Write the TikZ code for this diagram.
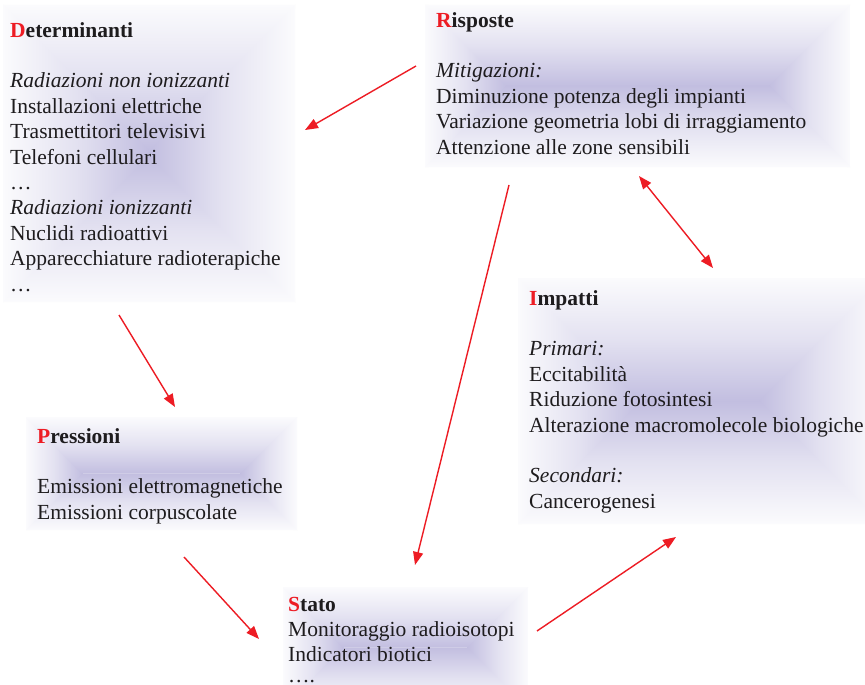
\documentclass[tikz,border=0pt]{standalone}
\usepackage{fontspec}
\setmainfont{Liberation Serif}
\usetikzlibrary{arrows.meta}

\definecolor{dpsirred}{RGB}{237,28,36}
\definecolor{panelcore}{RGB}{194,190,224}
\definecolor{paneledge}{RGB}{251,251,253}
\definecolor{inkblack}{RGB}{30,28,30}

\tikzset{
  panel text/.style={anchor=north west, inner sep=0pt, align=left, text=inkblack,
    font=\fontsize{21.5}{25.4}\selectfont},
  fade in/.style={middle color=panelcore!42!paneledge},
  flow/.style={draw=dpsirred, line width=1.4pt, -{Triangle[length=13pt,width=10pt]}},
  flow both/.style={draw=dpsirred, line width=1.4pt,
    {Triangle[length=13pt,width=10pt]}-{Triangle[length=13pt,width=10pt]}},
}

\newcommand\initial[1]{\textcolor{dpsirred}{#1}}

% Rectangular "from centre" gradient panel. The short-side pieces are laid
% down first, widened a little past the diagonals, so the long-side pieces
% drawn on top of them meet without visible seams.
\newcommand\gradpanel[4]{%
  \pgfmathsetmacro\gxa{#1}\pgfmathsetmacro\gya{#2}%
  \pgfmathsetmacro\gxb{#3}\pgfmathsetmacro\gyb{#4}%
  \pgfmathsetmacro\gcx{(#1+#3)/2}\pgfmathsetmacro\gcy{(#2+#4)/2}%
  \pgfmathsetmacro\gw{#3-#1}\pgfmathsetmacro\gh{#4-#2}%
  \ifdim\gw pt>\gh pt
    \pgfmathsetmacro\gl{#1+\gh/2}\pgfmathsetmacro\gr{#3-\gh/2}%
    \begin{scope}
      \clip (\gxa,\gya) -- ++(3,0) -- (\gl+3,\gcy) -- (\gxa+3,\gyb) -- (\gxa,\gyb) -- cycle;
      \shade[left color=paneledge, right color=panelcore, fade in]
        (\gxa,\gya) rectangle (\gl,\gyb);
    \end{scope}
    \begin{scope}
      \clip (\gxb,\gya) -- ++(-3,0) -- (\gr-3,\gcy) -- (\gxb-3,\gyb) -- (\gxb,\gyb) -- cycle;
      \shade[left color=panelcore, right color=paneledge, fade in]
        (\gr,\gya) rectangle (\gxb,\gyb);
    \end{scope}
    \shade[top color=paneledge, bottom color=panelcore, fade in]
      (\gxa,\gya) -- (\gxb,\gya) -- (\gr,\gcy) -- (\gl,\gcy) -- cycle;
    \shade[top color=panelcore, bottom color=paneledge, fade in]
      (\gxa,\gyb) -- (\gxb,\gyb) -- (\gr,\gcy) -- (\gl,\gcy) -- cycle;
  \else
    \pgfmathsetmacro\gt{#2+\gw/2}\pgfmathsetmacro\gb{#4-\gw/2}%
    \begin{scope}
      \clip (\gxa,\gya) -- (\gxb,\gya) -- (\gxb,\gya+3) -- (\gcx,\gt+3) -- (\gxa,\gya+3) -- cycle;
      \shade[top color=paneledge, bottom color=panelcore, fade in]
        (\gxa,\gya) rectangle (\gxb,\gt);
    \end{scope}
    \begin{scope}
      \clip (\gxa,\gyb) -- (\gxb,\gyb) -- (\gxb,\gyb-3) -- (\gcx,\gb-3) -- (\gxa,\gyb-3) -- cycle;
      \shade[top color=panelcore, bottom color=paneledge, fade in]
        (\gxa,\gb) rectangle (\gxb,\gyb);
    \end{scope}
    \shade[left color=paneledge, right color=panelcore, fade in]
      (\gxa,\gya) -- (\gcx,\gt) -- (\gcx,\gb) -- (\gxa,\gyb) -- cycle;
    \shade[left color=panelcore, right color=paneledge, fade in]
      (\gxb,\gya) -- (\gcx,\gt) -- (\gcx,\gb) -- (\gxb,\gyb) -- cycle;
  \fi}

\begin{document}
\begin{tikzpicture}[x=1pt, y=-1pt]
  \clip (0,0) rectangle (865,685);
  \fill[white] (0,0) rectangle (865,685);

  % shaded panels behind the five DPSIR blocks
  \gradpanel{3}{5}{295}{302}
  \gradpanel{425}{5}{850}{167}
  \gradpanel{518}{278}{882}{524}
  \gradpanel{26}{417}{297}{530}
  \gradpanel{283}{587}{528}{708}

  % block texts
  \node[panel text] (det) at (10,19.2) {\strut\textbf{\initial{D}eterminanti}\\[25.4pt]
    \textit{Radiazioni non ionizzanti}\\
    Installazioni elettriche\\
    Trasmettitori televisivi\\
    Telefoni cellulari\\
    …\\
    \textit{Radiazioni ionizzanti}\\
    Nuclidi radioattivi\\
    Apparecchiature radioterapiche\\
    …};

  \node[panel text] (ris) at (436,9.2) {\strut\textbf{\initial{R}isposte}\\[25.4pt]
    \textit{Mitigazioni:}\\
    Diminuzione potenza degli impianti\\
    Variazione geometria lobi di irraggiamento\\
    Attenzione alle zone sensibili};

  \node[panel text] (imp) at (529,287.2) {\strut\textbf{\initial{I}mpatti}\\[25.4pt]
    \textit{Primari:}\\
    Eccitabilità\\
    Riduzione fotosintesi\\
    Alterazione macromolecole biologiche\\[25.4pt]
    \textit{Secondari:}\\
    Cancerogenesi};

  \node[panel text] (pre) at (37,425.2) {\strut\textbf{\initial{P}ressioni}\\[25.4pt]
    Emissioni elettromagnetiche\\
    Emissioni corpuscolate};

  \node[panel text] (sta) at (288,593.2) {\strut\textbf{\initial{S}tato}\\
    Monitoraggio radioisotopi\\
    Indicatori biotici\\[-5pt]
    …. };

  % connector end points
  \coordinate (ris-out) at (416,66);
  \coordinate (det-in)  at (305,130);
  \coordinate (det-out) at (119,315);
  \coordinate (pre-in)  at (175,407);
  \coordinate (pre-out) at (184,557);
  \coordinate (sta-in)  at (259,639);
  \coordinate (sta-out) at (537,631);
  \coordinate (imp-in)  at (676,537);
  \coordinate (imp-top) at (713,268);
  \coordinate (ris-low) at (639,176);
  \coordinate (ris-dn)  at (509,185);
  \coordinate (sta-top) at (415,565);

  % cycle connectors
  \draw[flow] (ris-out) -- (det-in);
  \draw[flow] (det-out) -- (pre-in);
  \draw[flow] (pre-out) -- (sta-in);
  \draw[flow] (sta-out) -- (imp-in);
  \draw[flow] (ris-dn) -- (sta-top);
  \draw[flow both] (ris-low) -- (imp-top);
\end{tikzpicture}
\end{document}
